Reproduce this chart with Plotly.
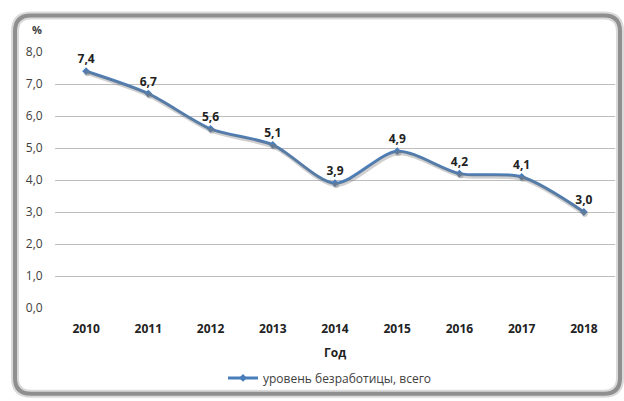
import plotly.graph_objects as go

# Unemployment rate, total (%)
years = ["2010", "2011", "2012", "2013", "2014", "2015", "2016", "2017", "2018"]
rate = [7.4, 6.7, 5.6, 5.1, 3.9, 4.9, 4.2, 4.1, 3.0]
rate_labels = ["7,4", "6,7", "5,6", "5,1", "3,9", "4,9", "4,2", "4,1", "3,0"]
y_ticks = [0, 1, 2, 3, 4, 5, 6, 7, 8]
y_tick_text = ["0,0", "1,0", "2,0", "3,0", "4,0", "5,0", "6,0", "7,0", "8,0"]

W, H = 624, 401
ML, MR, MT, MB = 55, 9, 52, 89
PW, PH = W - ML - MR, H - MT - MB
BLUE = "#4a7ebb"
FONT = "Open Sans"


def px(x):
    return (x - ML) / PW


def py(y):
    return (H - MB - y) / PH


fig = go.Figure()

# soft drop shadow under the line (same data on a slightly shifted overlay axis)
fig.add_trace(go.Scatter(
    x=years, y=rate, mode="lines+markers",
    line=dict(color="rgba(120,120,120,0.35)", width=4, shape="spline", smoothing=0.8),
    marker=dict(size=6, color="rgba(120,120,120,0.35)"),
    xaxis="x2", yaxis="y2", showlegend=False, hoverinfo="skip",
))

fig.add_trace(go.Scatter(
    x=years, y=rate, mode="lines+markers+text",
    name="уровень безработицы, всего",
    line=dict(color=BLUE, width=3, shape="spline", smoothing=0.8),
    marker=dict(size=6, color=BLUE, symbol="diamond"),
    text=rate_labels, textposition="top center",
    textfont=dict(family=FONT, size=12, color="#222222", weight="bold"),
))

shift = 2.0 / PH * 8  # ~2px downward offset for the shadow
fig.update_layout(
    width=W, height=H,
    margin=dict(l=ML, r=MR, t=MT, b=MB),
    paper_bgcolor="white", plot_bgcolor="white",
    font=dict(family=FONT, size=12, color="#404040"),
    xaxis=dict(
        type="category", range=[-0.5, 8.5], showgrid=False, zeroline=False,
        showline=False, ticks="outside", ticklen=10, tickcolor="rgba(0,0,0,0)",
        tickfont=dict(family=FONT, size=12, color="#222222", weight="bold"),
    ),
    yaxis=dict(
        range=[0, 8], tickvals=y_ticks, ticktext=y_tick_text,
        showgrid=True, gridcolor="#bdbdbd", gridwidth=1, zeroline=False,
        ticks="outside", ticklen=9, tickcolor="rgba(0,0,0,0)",
        tickfont=dict(family=FONT, size=12, color="#404040"),
    ),
    xaxis2=dict(type="category", range=[-0.5 - 1.0 / PW * 9, 8.5 - 1.0 / PW * 9],
                overlaying="x", visible=False),
    yaxis2=dict(range=[shift, 8 + shift], overlaying="y", visible=False),
    legend=dict(
        orientation="h", x=px(330), xanchor="center", y=py(383), yanchor="middle",
        font=dict(family=FONT, size=12, color="#404040"),
        itemwidth=30, borderwidth=0, bordercolor="rgba(0,0,0,0)",
        bgcolor="rgba(0,0,0,0)",
    ),
    annotations=[
        dict(text="%", x=px(37), y=py(29), xref="paper", yref="paper",
             showarrow=False, xanchor="center", yanchor="middle",
             font=dict(family=FONT, size=11, color="#404040", weight="bold")),
        dict(text="Год", x=px(335), y=py(357), xref="paper", yref="paper",
             showarrow=False, xanchor="center", yanchor="middle",
             font=dict(family=FONT, size=12, color="#222222", weight="bold")),
    ],
)


def rounded_rect(x0, y0, x1, y1, r):
    X0, X1 = px(x0), px(x1)
    Y0, Y1 = py(y0), py(y1)
    rx, ry = r / PW, r / PH
    return (f"M {X0 + rx},{Y0} L {X1 - rx},{Y0} Q {X1},{Y0} {X1},{Y0 - ry} "
            f"L {X1},{Y1 + ry} Q {X1},{Y1} {X1 - rx},{Y1} "
            f"L {X0 + rx},{Y1} Q {X0},{Y1} {X0},{Y1 + ry} "
            f"L {X0},{Y0 - ry} Q {X0},{Y0} {X0 + rx},{Y0} Z")


frame = rounded_rect(15, 15, 620, 399, 16)
fig.add_shape(type="path", path=frame, xref="paper", yref="paper",
              line=dict(color="rgba(150,150,150,0.35)", width=8), layer="below")
fig.add_shape(type="path", path=frame, xref="paper", yref="paper",
              line=dict(color="#8f8f8f", width=4), layer="below")

fig.write_html("out.html")
